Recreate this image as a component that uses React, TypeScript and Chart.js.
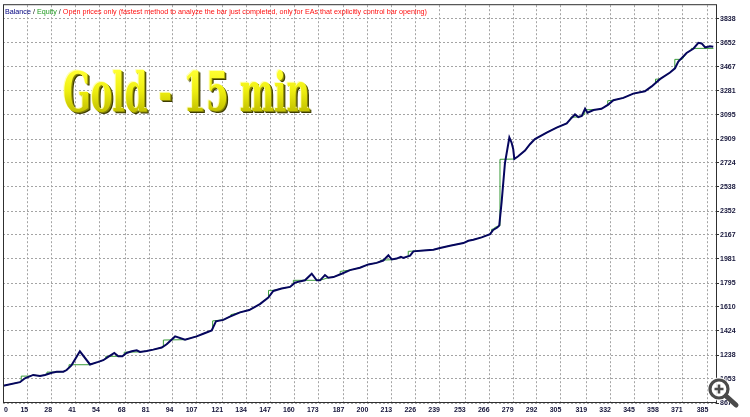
import React, { useEffect, useRef } from 'react';
import { Chart, registerables } from 'chart.js';

Chart.register(...registerables);

// Balance curve: [trade number, balance]
const balance: [number, number][] = [
  [1.7, 1000], [10.8, 1028], [13.5, 1058], [18.0, 1084], [21.7, 1076], [24.4, 1084], [28.1, 1101],
  [30.8, 1109], [34.4, 1109], [36.2, 1122], [38.9, 1160], [43.4, 1267], [48.9, 1165], [53.4, 1185],
  [56.1, 1198], [58.8, 1224], [62.1, 1254], [64.3, 1229], [66.5, 1229], [68.8, 1254], [71.6, 1267],
  [74.3, 1275], [76.1, 1262], [79.7, 1270], [83.3, 1280], [87.9, 1296], [90.6, 1321], [95.2, 1382],
  [100.6, 1357], [106.9, 1382], [110.5, 1403], [115.1, 1428], [117.4, 1499], [121.4, 1510], [125.0, 1535],
  [130.5, 1568], [135.5, 1586], [141.3, 1632], [145.9, 1683], [148.6, 1734], [153.1, 1752], [157.7, 1765],
  [160.4, 1798], [165.8, 1816], [169.5, 1867], [172.2, 1816], [174.0, 1816], [176.7, 1857], [178.5, 1836],
  [181.3, 1841], [185.8, 1867], [190.3, 1895], [195.7, 1913], [200.3, 1939], [204.8, 1951], [208.4, 1969],
  [211.2, 2010], [213.0, 1977], [215.7, 1984], [218.0, 1997], [219.3, 1989], [223.0, 2007], [224.8, 2040],
  [230.2, 2046], [235.7, 2053], [239.3, 2066], [244.7, 2084], [252.0, 2104], [254.7, 2122], [257.4, 2130],
  [261.9, 2148], [266.5, 2173], [268.2, 2206], [270.4, 2224], [271.5, 2239], [272.8, 2423], [274.6, 2723],
  [277.0, 2921], [278.2, 2882], [279.1, 2831], [279.7, 2754], [281.8, 2775], [285.5, 2819], [288.2, 2869],
  [290.9, 2908], [297.3, 2959], [302.7, 2997], [308.2, 3030], [310.9, 3074], [312.7, 3099], [314.5, 3079],
  [316.4, 3087], [318.2, 3143], [319.5, 3112], [322.8, 3133], [327.1, 3143], [330.8, 3175], [333.6, 3209],
  [339.0, 3227], [344.4, 3260], [350.7, 3278], [354.4, 3316], [358.9, 3372], [364.4, 3423], [367.1, 3456],
  [368.9, 3508], [373.4, 3574], [377.2, 3609], [379.8, 3653], [381.6, 3648], [383.5, 3617], [386.1, 3627],
  [387.9, 3622],
];

// Equity curve: [trade number, equity]
const equity: [number, number][] = [
  [1.7, 1000], [10.8, 1028], [11.5, 1036], [11.5, 1075], [16.4, 1075], [18.0, 1084], [21.7, 1076],
  [24.4, 1084], [25.5, 1090], [25.5, 1106], [31.5, 1106], [34.4, 1109], [36.2, 1122], [37.5, 1140],
  [37.5, 1163], [48.9, 1163], [53.4, 1185], [56.1, 1198], [57.5, 1211], [57.5, 1228], [66.5, 1228],
  [67.5, 1240], [67.5, 1260], [76.5, 1262], [79.7, 1270], [83.3, 1280], [87.9, 1296], [88.8, 1300],
  [88.8, 1354], [100.6, 1357], [106.9, 1382], [110.5, 1403], [115.1, 1428], [115.6, 1440], [115.6, 1502],
  [121.4, 1510], [125.0, 1535], [125.5, 1538], [125.5, 1550], [130.5, 1568], [135.5, 1586], [141.3, 1632],
  [146.0, 1685], [146.0, 1738], [148.6, 1738], [153.1, 1752], [157.7, 1765], [159.5, 1785], [159.5, 1816],
  [174.0, 1816], [178.5, 1836], [181.3, 1841], [185.0, 1862], [185.0, 1885], [190.3, 1895], [195.7, 1913],
  [200.3, 1939], [204.8, 1951], [207.0, 1962], [207.0, 1972], [213.0, 1975], [215.7, 1984], [218.0, 1997],
  [219.3, 1989], [222.0, 2002], [222.0, 2040], [230.2, 2046], [235.7, 2053], [239.3, 2066], [244.7, 2084],
  [252.0, 2104], [254.7, 2122], [257.4, 2130], [261.9, 2148], [266.5, 2173], [267.3, 2190], [267.3, 2210],
  [269.0, 2215], [269.0, 2224], [271.5, 2239], [271.9, 2240], [271.9, 2752], [279.7, 2754], [281.8, 2775],
  [285.5, 2819], [288.2, 2869], [290.9, 2908], [297.3, 2959], [302.7, 2997], [308.2, 3030], [310.5, 3062],
  [310.5, 3078], [314.5, 3079], [316.4, 3087], [318.0, 3100], [318.0, 3135], [325.0, 3137], [327.1, 3143],
  [330.5, 3172], [330.5, 3205], [333.6, 3209], [339.0, 3227], [344.4, 3260], [350.7, 3278], [354.4, 3316],
  [356.5, 3342], [356.5, 3372], [358.9, 3372], [364.4, 3423], [367.0, 3455], [367.0, 3525], [371.0, 3525],
  [373.4, 3574], [376.0, 3598], [376.0, 3610], [388.0, 3610],
];

const xTickLabels = [0, 15, 28, 41, 54, 68, 81, 94, 107, 121, 134, 147, 160, 173, 187, 200, 213, 226, 239, 253, 266, 279, 292, 305, 319, 332, 345, 358, 371, 385];
const yTickLabels = [867, 1053, 1238, 1424, 1610, 1795, 1981, 2167, 2352, 2538, 2724, 2909, 3095, 3281, 3467, 3652, 3838];

const X_MIN = 1.57;
const X_MAX = 389.4;
const Y_MIN = 867;
const Y_MAX = 3944;

const TITLE = 'Gold - 15 min';
const HEADER_PARTS: [string, string][] = [
  ['Balance', '#000080'],
  [' / ', '#202020'],
  ['Equity', '#1e9a1e'],
  [' / ', '#202020'],
  ['Open prices only (fastest method to analyze the bar just completed, only for EAs that explicitly control bar opening)', '#ff1010'],
];

const LABEL_FONT = 'bold 7px "Liberation Sans", Arial, sans-serif';
const LABEL_COLOR = '#15153a';

const overlayPlugin = {
  id: 'mt4Overlay',
  beforeDatasetsDraw(chart: any) {
    const { ctx, chartArea } = chart;
    // header line
    ctx.save();
    ctx.font = '7.5px "Liberation Sans", Arial, sans-serif';
    ctx.textBaseline = 'middle';
    const total = HEADER_PARTS.reduce((s, p) => s + ctx.measureText(p[0]).width, 0);
    const sx = 422 / total;
    ctx.translate(chartArea.left + 2, chartArea.top + 6.5);
    ctx.scale(sx, 1);
    let x = 0;
    HEADER_PARTS.forEach(([t, c]) => {
      ctx.fillStyle = c;
      ctx.fillText(t, x, 0);
      x += ctx.measureText(t).width;
    });
    ctx.restore();

    // title
    ctx.save();
    ctx.font = 'bold 54px "DejaVu Serif Condensed", "DejaVu Serif", serif';
    ctx.textBaseline = 'alphabetic';
    const w = ctx.measureText(TITLE).width;
    const tsx = 247 / w;
    ctx.translate(63, 111);
    ctx.scale(tsx, 1);
    const layers: [number, number, any][] = [
      [2.2, 2.2, '#3e3c00'],
      [1.2, 1.2, '#86840a'],
      [-1, -1, '#ffffb8'],
    ];
    layers.forEach(([dx, dy, c]) => {
      ctx.fillStyle = c;
      ctx.fillText(TITLE, dx / tsx, dy);
    });
    const g = ctx.createLinearGradient(0, -40, 0, 0);
    g.addColorStop(0, '#ffff30');
    g.addColorStop(0.5, '#eeee10');
    g.addColorStop(1, '#c4c200');
    ctx.fillStyle = g;
    ctx.fillText(TITLE, 0, 0);
    ctx.restore();
  },
  afterDraw(chart: any) {
    const { ctx, chartArea, scales } = chart;
    // frame
    ctx.save();
    ctx.strokeStyle = '#303030';
    ctx.lineWidth = 1;
    ctx.strokeRect(chartArea.left + 0.5, chartArea.top - 0.5, chartArea.right - chartArea.left, chartArea.bottom - chartArea.top);
    ctx.restore();

    // x labels (MT4 style: right-aligned on grid line, first left-aligned)
    ctx.save();
    ctx.font = LABEL_FONT;
    ctx.fillStyle = LABEL_COLOR;
    ctx.textBaseline = 'middle';
    xTickLabels.forEach((v, i) => {
      const px = scales.x.getPixelForValue(Math.max(v, X_MIN));
      if (i === 0) {
        ctx.textAlign = 'left';
        ctx.fillText(String(v), px + 1, chartArea.bottom + 7.5);
      } else {
        ctx.textAlign = 'right';
        ctx.fillText(String(v), px + 0.5, chartArea.bottom + 7.5);
      }
    });
    ctx.restore();

    // zoom magnifier icon
    ctx.save();
    const cx = 719, cy = 389, r = 9;
    ctx.fillStyle = 'rgba(255,255,255,0.9)';
    ctx.beginPath();
    ctx.arc(cx, cy, r + 2.5, 0, Math.PI * 2);
    ctx.fill();
    ctx.strokeStyle = '#4a4a4a';
    ctx.lineCap = 'round';
    ctx.lineWidth = 5;
    ctx.beginPath();
    ctx.moveTo(cx + 7, cy + 7);
    ctx.lineTo(cx + 17, cy + 16);
    ctx.stroke();
    ctx.lineWidth = 3.2;
    ctx.beginPath();
    ctx.arc(cx, cy, r, 0, Math.PI * 2);
    ctx.stroke();
    ctx.lineWidth = 2.6;
    ctx.lineCap = 'butt';
    ctx.beginPath();
    ctx.moveTo(cx - 4.5, cy);
    ctx.lineTo(cx + 4.5, cy);
    ctx.moveTo(cx, cy - 4.5);
    ctx.lineTo(cx, cy + 4.5);
    ctx.stroke();
    ctx.restore();
  },
};

export default function App() {
  const canvasRef = useRef<HTMLCanvasElement | null>(null);

  useEffect(() => {
    const canvas = canvasRef.current;
    if (!canvas) return;
    const chart = new Chart(canvas, {
      type: 'line',
      data: {
        datasets: [
          {
            label: 'Balance',
            data: balance.map(([x, y]) => ({ x, y })),
            borderColor: '#06065e',
            borderWidth: 2,
            pointRadius: 0,
            tension: 0,
            fill: false,
          },
          {
            label: 'Equity',
            data: equity.map(([x, y]) => ({ x, y })),
            borderColor: '#3a9c3a',
            borderWidth: 1,
            pointRadius: 0,
            tension: 0,
            fill: false,
          },
        ],
      },
      options: {
        responsive: false,
        maintainAspectRatio: false,
        devicePixelRatio: 1,
        animation: false,
        events: [],
        layout: { padding: { left: 3, top: 1, right: 0, bottom: 0 } },
        plugins: { legend: { display: false }, tooltip: { enabled: false }, title: { display: false } },
        scales: {
          x: {
            type: 'linear',
            min: X_MIN,
            max: X_MAX,
            afterBuildTicks: (scale: any) => {
              scale.ticks = xTickLabels.map((v) => ({ value: Math.max(v, X_MIN) }));
            },
            afterFit: (scale: any) => {
              scale.height = 14;
            },
            ticks: { display: false, autoSkip: false },
            grid: { color: '#a4a4a4', lineWidth: 1, drawTicks: false, tickLength: 0 },
            border: { display: false, dash: [2, 2] },
          },
          y: {
            type: 'linear',
            position: 'right',
            min: Y_MIN,
            max: Y_MAX,
            afterBuildTicks: (scale: any) => {
              scale.ticks = yTickLabels.map((v) => ({ value: v }));
            },
            afterFit: (scale: any) => {
              scale.width = 34;
            },
            ticks: {
              autoSkip: false,
              padding: 1,
              color: LABEL_COLOR,
              font: { family: '"Liberation Sans", Arial, sans-serif', size: 7, weight: 'bold' },
              callback: (v: any) => String(v),
            },
            grid: { color: '#a4a4a4', lineWidth: 1, tickLength: 3, tickColor: '#303030', tickBorderDash: [] },
            border: { display: false, dash: [2, 2] },
          },
        },
      },
      plugins: [overlayPlugin],
    } as any);
    return () => chart.destroy();
  }, []);

  return (
    <div style={{ position: 'fixed', left: 0, top: 0, width: 750, height: 417, background: '#ffffff' }}>
      <canvas ref={canvasRef} width={750} height={417} style={{ display: 'block', width: 750, height: 417 }} />
    </div>
  );
}
